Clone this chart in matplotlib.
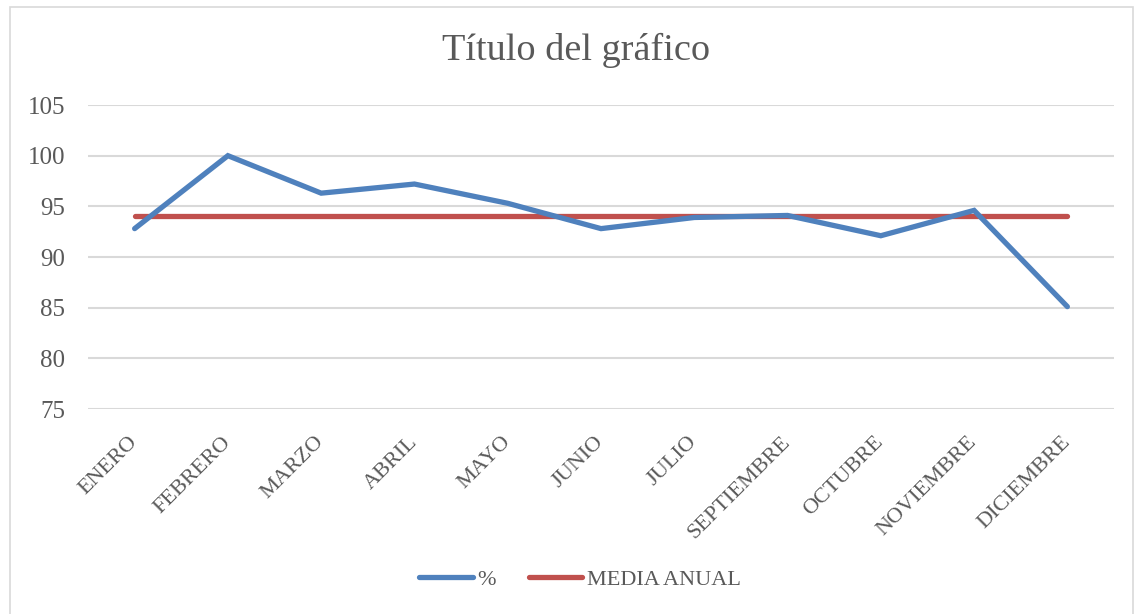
import matplotlib
matplotlib.use("Agg")
import matplotlib.pyplot as plt
from matplotlib.patches import Rectangle

months = ["ENERO", "FEBRERO", "MARZO", "ABRIL", "MAYO", "JUNIO", "JULIO",
          "SEPTIEMBRE", "OCTUBRE", "NOVIEMBRE", "DICIEMBRE"]
pct = [92.8, 100.0, 96.3, 97.2, 95.3, 92.8, 93.9, 94.1, 92.1, 94.6, 85.1]
media = [94.0] * len(months)
yticks = [75, 80, 85, 90, 95, 100, 105]

plt.rcParams['font.family'] = ['Liberation Serif', 'DejaVu Serif']
txt = '#595959'

fig = plt.figure(figsize=(11.36, 6.14), dpi=100)
fig.patches.append(Rectangle((10/1136, -0.01), (1133-10)/1136, 1 - 7/614 + 0.01,
                             transform=fig.transFigure, fill=False,
                             edgecolor='#D9D9D9', linewidth=1.2))
ax = fig.add_axes([88/1136, 1 - 409/614, (1114-88)/1136, (409-105)/614])

x = list(range(len(months)))
ax.plot(x, pct, color='#4F81BD', linewidth=3.8, solid_capstyle='round',
        solid_joinstyle='miter', label='%', zorder=3)
ax.plot(x, media, color='#C0504D', linewidth=3.8, solid_capstyle='round',
        label='MEDIA ANUAL', zorder=2)

ax.set_xlim(-0.5, len(months) - 0.5)
ax.set_ylim(75, 105)
ax.set_yticks(yticks)
ax.set_yticklabels([str(v) for v in yticks], fontsize=18, color=txt)
ax.set_xticks(x)
ax.set_xticklabels(months, rotation=45, ha='right', va='center',
                   rotation_mode='anchor', fontsize=16, color=txt)
ax.tick_params(axis='both', length=0)
ax.tick_params(axis='x', pad=22)
ax.tick_params(axis='y', pad=16.5)
ax.grid(axis='y', color='#D9D9D9', linewidth=1.5)
ax.set_axisbelow(True)
for s in ax.spines.values():
    s.set_visible(False)

fig.text(576/1136, 1 - 50/614, 'Título del gráfico', ha='center', va='center',
         fontsize=27.5, color=txt)

leg = fig.legend(loc='center', bbox_to_anchor=(580/1136, 1 - 580/614), ncol=2,
                 frameon=False, fontsize=16, handlelength=2.4, handletextpad=0.2,
                 columnspacing=1.5, labelcolor=txt)

fig.savefig('out.png', dpi=100)
